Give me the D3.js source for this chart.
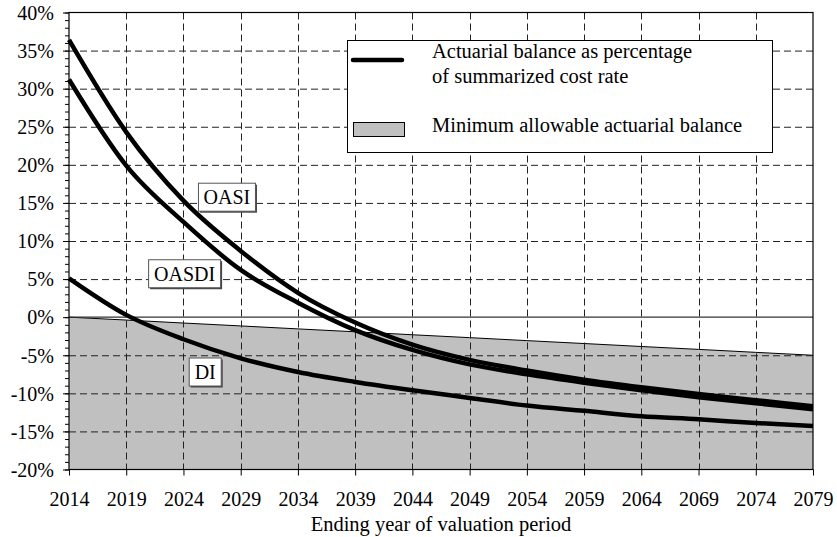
<!DOCTYPE html>
<html><head><meta charset="utf-8">
<script src="https://cdn.jsdelivr.net/npm/d3@7"></script>
<style>
body{margin:0;background:#fff}
svg{display:block}
svg text{font-family:"Liberation Serif","Tinos","Times New Roman",Times,serif !important}
</style>
</head><body>
<svg id="c" width="837" height="537"></svg>
<script>
// ---- data ----
const years = [2014,2019,2024,2029,2034,2039,2044,2049,2054,2059,2064,2069,2074,2079];
const oasi  = [36.4,24.3,15.3,8.7,3.2,-0.7,-3.6,-5.6,-7.0,-8.2,-9.2,-10.1,-10.9,-11.7];
const oasdi = [31.2,19.9,12.5,6.2,1.9,-1.7,-4.3,-6.2,-7.5,-8.6,-9.6,-10.5,-11.3,-12.1];
const di    = [5.1,0.3,-2.9,-5.4,-7.2,-8.5,-9.6,-10.6,-11.6,-12.3,-13.0,-13.4,-13.9,-14.3];
const minAllowable = [0,-0.38,-0.77,-1.15,-1.54,-1.92,-2.31,-2.69,-3.08,-3.46,-3.85,-4.23,-4.62,-5.0];
const yTicks = [40,35,30,25,20,15,10,5,0,-5,-10,-15,-20];
const yMinorTicks = d3.range(-20,41,1);
const seriesNames = ["OASI","OASDI","DI"];
const labelYears  = [2027.8,2024.1,2025.9];
const labelValues = [15.75,5.7,-7.2];
const legendLine = ["Actuarial balance as percentage","of summarized cost rate"];
const legendFill = "Minimum allowable actuarial balance";
const xTitle = "Ending year of valuation period";

// ---- layout ----
const FONT = '"Liberation Serif", Tinos, "Times New Roman", serif';
const boxW = {OASI:57, OASDI:72, DI:32};
const svg = d3.select("#c").style("font-family", FONT);
const L=69, R=813, T=12.5, B=469.5;
const x = d3.scaleLinear().domain([2014,2079]).range([L,R]);
const y = d3.scaleLinear().domain([-20,40]).range([B,T]);
const txt = (sel,size)=>sel.style("font-family",FONT).style("font-size",size+"px").attr("fill","#000");

// shaded area
const area = d3.area().x((d,i)=>x(years[i])).y0(y(-20)).y1(d=>y(d));
svg.append("path").datum(minAllowable).attr("d",area).attr("fill","#c0c0c0");
svg.append("path").datum(minAllowable)
  .attr("d",d3.line().x((d,i)=>x(years[i])).y(d=>y(d)))
  .attr("fill","none").attr("stroke","#000").attr("stroke-width",1);

// grid
const g = svg.append("g");
g.selectAll(".hg").data(yTicks.filter(v=>v!==40 && v!==-20 && v!==0)).enter().append("line")
  .attr("x1",L).attr("x2",R).attr("y1",d=>y(d)+0.5).attr("y2",d=>y(d)+0.5)
  .attr("stroke","#222").attr("stroke-width",1).attr("stroke-dasharray","7,4");
g.selectAll(".vg").data(years.filter(v=>v!==2014 && v!==2079)).enter().append("line")
  .attr("x1",d=>Math.round(x(d))+0.5).attr("x2",d=>Math.round(x(d))+0.5).attr("y1",T).attr("y2",B)
  .attr("stroke","#222").attr("stroke-width",1).attr("stroke-dasharray","7,4");
// zero line
svg.append("line").attr("x1",L).attr("x2",R).attr("y1",y(0)).attr("y2",y(0))
  .attr("stroke","#333").attr("stroke-width",1.2);

// legend box
const lg = svg.append("g");
lg.append("rect").attr("x",347.5).attr("y",40.5).attr("width",425).attr("height",112)
  .attr("fill","#fff").attr("stroke","#000").attr("stroke-width",1);
lg.append("line").attr("x1",353).attr("x2",402).attr("y1",60).attr("y2",60)
  .attr("stroke","#000").attr("stroke-width",4.5).attr("stroke-linecap","round");
txt(lg.append("text").attr("x",432).attr("y",58).text(legendLine[0]),20.5);
txt(lg.append("text").attr("x",432).attr("y",83).text(legendLine[1]),20.5);
lg.append("rect").attr("x",353.5).attr("y",122.5).attr("width",51).attr("height",14)
  .attr("fill","#c0c0c0").attr("stroke","#000").attr("stroke-width",1);
txt(lg.append("text").attr("x",432).attr("y",132).text(legendFill),20.5);

// curves
const line = d3.line().x((d,i)=>x(years[i])).y(d=>y(d)).curve(d3.curveMonotoneX);
[oasi,oasdi,di].forEach(s=>{
  svg.append("path").datum(s).attr("d",line).attr("fill","none")
    .attr("stroke","#000").attr("stroke-width",4.5);
});

// series labels
seriesNames.forEach((name,i)=>{
  const cx=x(labelYears[i]), cy=y(labelValues[i]);
  const w = boxW[name], h=28;
  svg.append("rect").attr("x",cx-w/2+1.5).attr("y",cy-h/2+1.5).attr("width",w).attr("height",h)
    .attr("fill","#444");
  svg.append("rect").attr("x",cx-w/2).attr("y",cy-h/2).attr("width",w).attr("height",h)
    .attr("fill","#fff").attr("stroke","#555").attr("stroke-width",1);
  txt(svg.append("text").attr("x",cx).attr("y",cy+7).attr("text-anchor","middle").text(name),20);
});

// plot border
svg.append("rect").attr("x",L).attr("y",T).attr("width",R-L).attr("height",B-T)
  .attr("fill","none").attr("stroke","#000").attr("stroke-width",1.2);

// axes
const ya = svg.append("g").attr("transform",`translate(${L},0)`)
  .call(d3.axisLeft(y).tickValues(yTicks).tickSize(6).tickPadding(9).tickFormat(d=>d+"%"));
ya.attr("font-family",null).attr("font-size",null);
ya.select(".domain").remove();
txt(ya.selectAll("text").attr("dy","0.34em"),20);
ya.selectAll("line").attr("stroke","#000");
const ym = svg.append("g").attr("transform",`translate(${L},0)`)
  .call(d3.axisLeft(y).tickValues(yMinorTicks).tickSize(4).tickFormat(""));
ym.select(".domain").remove();
ym.selectAll("line").attr("stroke","#000");

const xa = svg.append("g").attr("transform",`translate(0,${B})`)
  .call(d3.axisBottom(x).tickValues(years).tickSize(6).tickPadding(16).tickFormat(d=>String(d)));
xa.attr("font-family",null).attr("font-size",null);
xa.select(".domain").remove();
txt(xa.selectAll("text"),20);
xa.selectAll("line").attr("stroke","#000");

txt(svg.append("text").attr("x",(L+R)/2).attr("y",531).attr("text-anchor","middle").text(xTitle),20.5);
</script>
</body></html>
